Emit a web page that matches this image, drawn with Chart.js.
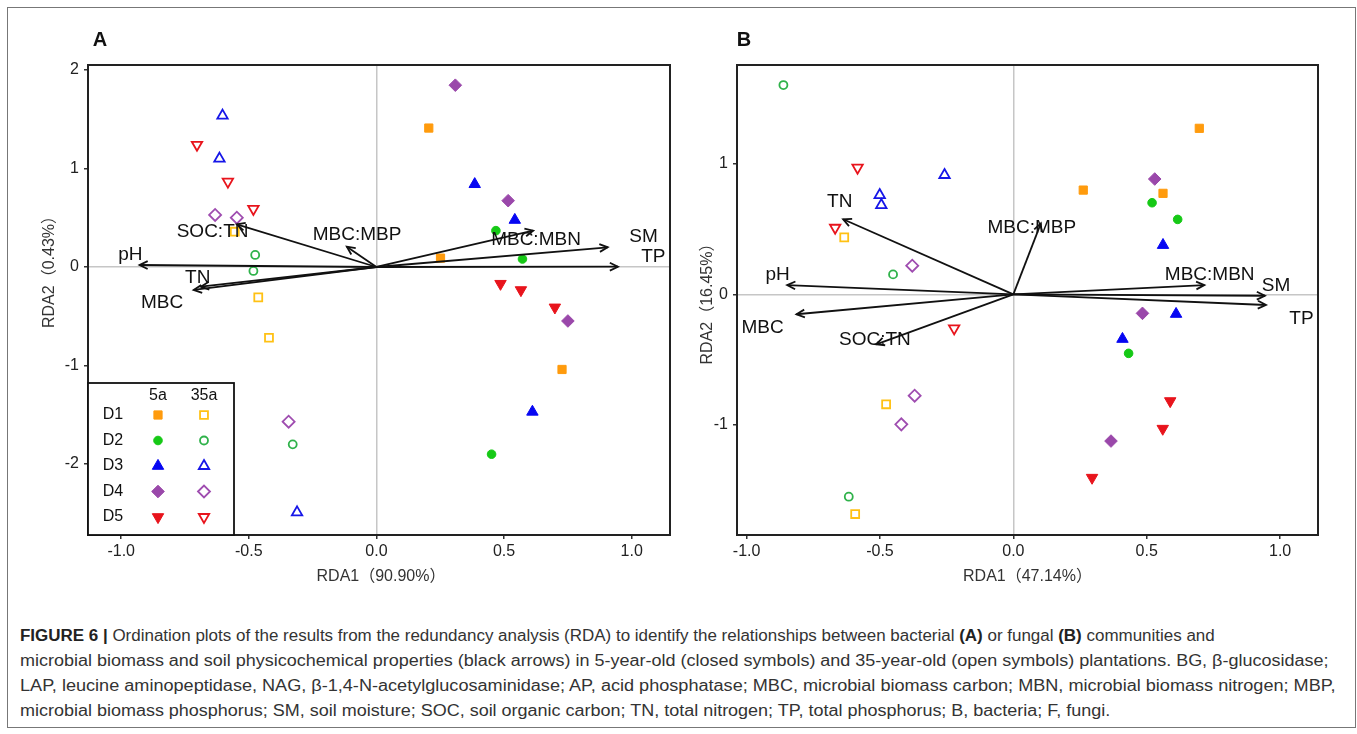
<!DOCTYPE html>
<html>
<head>
<meta charset="utf-8">
<script src="https://cdn.jsdelivr.net/npm/chart.js@4.4.1/dist/chart.umd.min.js"></script>
<style>
  body { margin: 0; background: #fff; }
  #wrap { position: relative; width: 1357px; height: 734px; overflow: hidden; }
  #frame { position: absolute; left: 7px; top: 7px; width: 1347px; height: 719px; border: 1px solid #777; }
  canvas { position: absolute; top: 0; }
  #cvA { left: 0; }
  #cvB { left: 690px; }
  #caption { position: absolute; left: 20px; top: 623px; font-family: "Liberation Sans", Arial, sans-serif; font-size: 16px; color: #333; }
  #caption div { width: max-content; height: 25px; line-height: 25px; white-space: nowrap; transform-origin: 0 50%; }
  #caption b { color: #222; }
</style>
</head>
<body>
<div id="wrap">
  <div id="frame"></div>
  <canvas id="cvA" width="690" height="600"></canvas>
  <canvas id="cvB" width="667" height="600"></canvas>
  <div id="caption">
    <div data-w="1195"><b>FIGURE 6 |</b> Ordination plots of the results from the redundancy analysis (RDA) to identify the relationships between bacterial <b>(A)</b> or fungal <b>(B)</b> communities and</div>
    <div data-w="1308" id="capRef">microbial biomass and soil physicochemical properties (black arrows) in 5-year-old (closed symbols) and 35-year-old (open symbols) plantations. BG, β-glucosidase;</div>
    <div data-w="1316">LAP, leucine aminopeptidase, NAG, β-1,4-N-acetylglucosaminidase; AP, acid phosphatase; MBC, microbial biomass carbon; MBN, microbial biomass nitrogen; MBP,</div>
    <div>microbial biomass phosphorus; SM, soil moisture; SOC, soil organic carbon; TN, total nitrogen; TP, total phosphorus; B, bacteria; F, fungi.</div>
  </div>
</div>
<script>
// groups and ages
const groups = ['D1', 'D2', 'D3', 'D4', 'D5'];
const ages = ['5a', '35a'];

// panel A (bacteria) site scores [RDA1, RDA2]
const aD1_5 = [[0.205, 1.41], [0.251, 0.09], [0.727, -1.04]];
const aD2_5 = [[0.468, 0.369], [0.572, 0.081], [0.451, -1.90]];
const aD3_5 = [[0.385, 0.84], [0.542, 0.477], [0.611, -1.47]];
const aD4_5 = [[0.309, 1.845], [0.516, 0.673], [0.75, -0.548]];
const aD5_5 = [[0.486, -0.17], [0.566, -0.234], [0.699, -0.41]];
const aD1_35 = [[-0.555, 0.358], [-0.463, -0.308], [-0.421, -0.718]];
const aD2_35 = [[-0.475, 0.122], [-0.482, -0.04], [-0.328, -1.80]];
const aD3_35 = [[-0.603, 1.536], [-0.615, 1.10], [-0.311, -2.49]];
const aD4_35 = [[-0.632, 0.528], [-0.547, 0.50], [-0.344, -1.57]];
const aD5_35 = [[-0.703, 1.24], [-0.582, 0.866], [-0.482, 0.589]];

// panel B (fungi) site scores
const bD1_5 = [[0.697, 1.274], [0.262, 0.80], [0.561, 0.775]];
const bD2_5 = [[0.52, 0.703], [0.616, 0.575], [0.432, -0.453]];
const bD3_5 = [[0.561, 0.378], [0.61, -0.151], [0.409, -0.343]];
const bD4_5 = [[0.53, 0.885], [0.484, -0.146], [0.366, -1.126]];
const bD5_5 = [[0.588, -0.819], [0.56, -1.031], [0.295, -1.407]];
const bD1_35 = [[-0.634, 0.437], [-0.477, -0.844], [-0.593, -1.686]];
const bD2_35 = [[-0.862, 1.606], [-0.451, 0.153], [-0.617, -1.553]];
const bD3_35 = [[-0.258, 0.916], [-0.501, 0.762], [-0.495, 0.685]];
const bD4_35 = [[-0.379, 0.22], [-0.37, -0.778], [-0.42, -0.998]];
const bD5_35 = [[-0.584, 0.972], [-0.668, 0.511], [-0.222, -0.261]];

// environmental arrows (biplot scores) and where their names sit
const envNames = ['SOC:TN', 'pH', 'TN', 'MBC', 'MBC:MBP', 'MBC:MBN', 'SM', 'TP'];
const aArrowX = [-0.547, -0.928, -0.688, -0.716, -0.116, 0.614, 0.906, 0.946];
const aArrowY = [0.433, 0.02, -0.2, -0.233, 0.206, 0.369, 0.2, 0.003];
const aLabelX = [-0.642, -0.964, -0.70, -0.84, -0.076, 0.625, 1.046, 1.085];
const aLabelY = [0.358, 0.122, -0.109, -0.368, 0.325, 0.274, 0.308, 0.105];
const bArrowX = [-0.514, -0.848, -0.638, -0.813, 0.103, 0.716, 0.943, 0.947];
const bArrowY = [-0.384, 0.071, 0.576, -0.153, 0.545, 0.071, -0.011, -0.082];
const bLabelX = [-0.519, -0.884, -0.651, -0.94, 0.069, 0.736, 0.985, 1.08];
const bLabelY = [-0.351, 0.148, 0.711, -0.256, 0.509, 0.153, 0.066, -0.184];

// marker look for each group: closed for 5a, open for 35a
const marks = [
  { ps: 'rect', rot: 0, r: 5.8, ro: 5.6, c5: '#ff9b0d', c35: '#ffc114' },
  { ps: 'circle', rot: 0, r: 4.3, ro: 4.0, c5: '#16c916', c35: '#2fb24a' },
  { ps: 'triangle', rot: 0, r: 6.6, ro: 6.0, c5: '#0606f2', c35: '#1616e8' },
  { ps: 'rectRot', rot: 0, r: 6.3, ro: 6.0, c5: '#9a48aa', c35: '#9f4db0' },
  { ps: 'triangle', rot: 180, r: 6.6, ro: 6.0, c5: '#e8141c', c35: '#e8141c' }
];

const FONT = "'Liberation Sans', Arial, sans-serif";

function toPts(arr) {
  return arr.map(p => ({ x: p[0], y: p[1] }));
}

function pointSets(closed, open) {
  let sets = [];
  groups.forEach((g, i) => {
    let m = marks[i];
    sets.push({
      label: g + ' ' + ages[0], data: toPts(closed[i]),
      pointStyle: m.ps, rotation: m.rot, pointRadius: m.r,
      backgroundColor: m.c5, borderColor: m.c5, borderWidth: 1
    });
    sets.push({
      label: g + ' ' + ages[1], data: toPts(open[i]),
      pointStyle: m.ps, rotation: m.rot, pointRadius: m.ro,
      backgroundColor: 'rgba(255,255,255,0)', borderColor: m.c35, borderWidth: 1.8
    });
  });
  return sets;
}

function arrowSets(xs, ys) {
  return envNames.map((n, i) => ({
    type: 'line', label: n, isArrow: true,
    data: [{ x: 0, y: 0 }, { x: xs[i], y: ys[i] }],
    borderColor: '#111', borderWidth: 1.8, pointRadius: 0, fill: false
  }));
}

function axes(xmin, xmax, ymin, ymax, yWidth) {
  const grid = {
    color: c => (c.tick && c.tick.value === 0) ? '#c6c6c6' : 'rgba(0,0,0,0)',
    lineWidth: 1.5, tickColor: '#333', tickLength: 4, drawTicks: true
  };
  return {
    x: {
      type: 'linear', min: xmin, max: xmax,
      afterFit: s => { s.height = 65; },
      ticks: { stepSize: 0.5, includeBounds: false, padding: 3, color: '#222',
               font: { family: FONT, size: 16 }, callback: v => v.toFixed(1) },
      grid: grid, border: { display: true, color: '#222', width: 2 }
    },
    y: {
      type: 'linear', min: ymin, max: ymax,
      afterFit: s => { s.width = yWidth; },
      ticks: { stepSize: 1, includeBounds: false, padding: 5, color: '#222',
               font: { family: FONT, size: 16 }, callback: v => String(v) },
      grid: grid, border: { display: true, color: '#222', width: 2 }
    }
  };
}

// frame, arrow heads, variable names, axis titles, panel letter, legend
const decor = {
  id: 'decor',
  afterDatasetsDraw(chart, args, o) {
    const ctx = chart.ctx;
    const a = chart.chartArea;
    const xs = chart.scales.x, ys = chart.scales.y;
    ctx.save();
    // arrow heads
    chart.data.datasets.forEach((ds, i) => {
      if (!ds.isArrow) return;
      const pts = chart.getDatasetMeta(i).data;
      const x0 = pts[0].x, y0 = pts[0].y, x1 = pts[1].x, y1 = pts[1].y;
      const ang = Math.atan2(y1 - y0, x1 - x0);
      const L = 9, w = 0.45;
      ctx.strokeStyle = '#111';
      ctx.lineWidth = 1.8;
      ctx.beginPath();
      ctx.moveTo(x1 - L * Math.cos(ang - w), y1 - L * Math.sin(ang - w));
      ctx.lineTo(x1, y1);
      ctx.lineTo(x1 - L * Math.cos(ang + w), y1 - L * Math.sin(ang + w));
      ctx.stroke();
    });
    // variable names
    ctx.fillStyle = '#111';
    ctx.font = '19px ' + FONT;
    ctx.textAlign = 'center';
    ctx.textBaseline = 'middle';
    envNames.forEach((n, i) => {
      ctx.fillText(n, xs.getPixelForValue(o.labelX[i]), ys.getPixelForValue(o.labelY[i]));
    });
    // box round the plot
    ctx.strokeStyle = '#222';
    ctx.lineWidth = 2;
    ctx.strokeRect(a.left, a.top, a.right - a.left, a.bottom - a.top);
    // legend
    if (o.legend) {
      const lw = 146, lh = 152;
      const lx = a.left, ly = a.bottom - lh;
      ctx.fillStyle = '#fff';
      ctx.fillRect(lx, ly, lw, lh);
      ctx.strokeStyle = '#111';
      ctx.lineWidth = 1.8;
      ctx.strokeRect(lx, ly, lw, lh);
      ctx.fillStyle = '#111';
      ctx.font = '16px ' + FONT;
      ctx.fillText(ages[0], lx + 70, ly + 13);
      ctx.fillText(ages[1], lx + 116, ly + 13);
      groups.forEach((g, i) => {
        const yy = ly + 32 + i * 25.5;
        const m = marks[i];
        ctx.fillStyle = '#111';
        ctx.fillText(g, lx + 25, yy);
        ctx.fillStyle = m.c5; ctx.strokeStyle = m.c5; ctx.lineWidth = 1;
        Chart.helpers.drawPoint(ctx, { pointStyle: m.ps, rotation: m.rot, radius: m.r, borderWidth: 1 }, lx + 70, yy);
        ctx.fillStyle = 'rgba(255,255,255,0)'; ctx.strokeStyle = m.c35; ctx.lineWidth = 1.8;
        Chart.helpers.drawPoint(ctx, { pointStyle: m.ps, rotation: m.rot, radius: m.ro, borderWidth: 1.8 }, lx + 116, yy);
      });
    }
    // axis titles
    ctx.fillStyle = '#333';
    ctx.font = '16px ' + FONT + ", 'Noto Sans CJK SC'";
    ctx.textAlign = 'center';
    ctx.fillText(o.xTitle, (a.left + a.right) / 2 + o.xTitleDx, a.bottom + 42);
    ctx.save();
    ctx.translate(a.left - o.yTitleGap, (a.top + a.bottom) / 2 + o.yTitleDy);
    ctx.rotate(-Math.PI / 2);
    ctx.fillText(o.yTitle, 0, 0);
    ctx.restore();
    // panel letter
    ctx.fillStyle = '#111';
    ctx.font = 'bold 20px ' + FONT;
    ctx.fillText(o.letter, a.left + o.letterDx, a.top - 25);
    ctx.restore();
  }
};

function makeChart(id, sets, arrows, sc, pad, deco) {
  return new Chart(document.getElementById(id), {
    type: 'scatter',
    data: { datasets: arrows.concat(sets) },
    options: {
      responsive: false,
      animation: false,
      devicePixelRatio: 1,
      layout: { padding: pad },
      scales: sc,
      plugins: { legend: { display: false }, tooltip: { enabled: false }, decor: deco }
    },
    plugins: [decor]
  });
}

makeChart('cvA',
  pointSets([aD1_5, aD2_5, aD3_5, aD4_5, aD5_5], [aD1_35, aD2_35, aD3_35, aD4_35, aD5_35]),
  arrowSets(aArrowX, aArrowY),
  axes(-1.130, 1.150, -2.72, 2.05, 88),
  { left: 0, top: 65, right: 20, bottom: 0 },
  { labelX: aLabelX, labelY: aLabelY, legend: true, letter: 'A', letterDx: 12,
    xTitle: 'RDA1（90.90%）', xTitleDx: 2, yTitle: 'RDA2（0.43%）', yTitleGap: 38, yTitleDy: -32 });

makeChart('cvB',
  pointSets([bD1_5, bD2_5, bD3_5, bD4_5, bD5_5], [bD1_35, bD2_35, bD3_35, bD4_35, bD5_35]),
  arrowSets(bArrowX, bArrowY),
  axes(-1.036, 1.142, -1.847, 1.76, 47),
  { left: 0, top: 65, right: 39, bottom: 0 },
  { labelX: bLabelX, labelY: bLabelY, legend: false, letter: 'B', letterDx: 7,
    xTitle: 'RDA1（47.14%）', xTitleDx: 0, yTitle: 'RDA2（16.45%）', yTitleGap: 29, yTitleDy: 0 });

// squeeze caption lines to the width they have in the figure;
// the last line follows the second one
const capScale = 1308 / document.getElementById('capRef').scrollWidth;
document.querySelectorAll('#caption div').forEach(d => {
  const s = d.dataset.w ? (+d.dataset.w / d.scrollWidth) : capScale;
  d.style.transform = 'scaleX(' + s.toFixed(4) + ')';
});
</script>
</body>
</html>
